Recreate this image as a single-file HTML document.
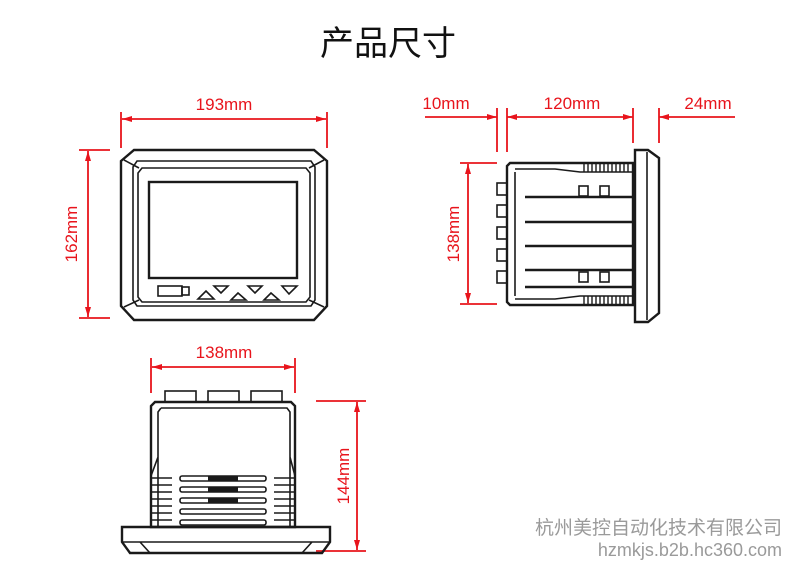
<!DOCTYPE html>
<html><head><meta charset="utf-8"><style>
html,body{margin:0;padding:0;background:#fff}
svg{display:block}
.r{stroke:#e8141c;stroke-width:1.8;fill:none}
.rt{fill:#e8141c;font-family:"Liberation Sans",sans-serif;font-size:17px}
.k{stroke:#1a1a1a;stroke-width:2.4;fill:none}
.k1{stroke:#1a1a1a;stroke-width:1.6;fill:none}
</style></head><body>
<svg width="790" height="562" viewBox="0 0 790 562" xmlns="http://www.w3.org/2000/svg">
<defs>
<marker id="a" viewBox="0 0 10 6" refX="10" refY="3" markerWidth="10" markerHeight="6" markerUnits="userSpaceOnUse" orient="auto-start-reverse"><path d="M0,0L10,3L0,6z" fill="#e8141c"/></marker>
</defs>
<text x="388" y="55" text-anchor="middle" font-family="'Liberation Sans','Noto Sans CJK SC',sans-serif" font-size="34" fill="#111">产品尺寸</text>

<!-- front view -->
<line class="r" x1="121" y1="112" x2="121" y2="148"/><line class="r" x1="327" y1="112" x2="327" y2="148"/>
<line class="r" x1="122" y1="119" x2="326" y2="119" marker-start="url(#a)" marker-end="url(#a)"/>
<text class="rt" x="224" y="110" text-anchor="middle">193mm</text>
<line class="r" x1="79" y1="150" x2="110" y2="150"/><line class="r" x1="79" y1="318" x2="110" y2="318"/>
<line class="r" x1="88" y1="151" x2="88" y2="317" marker-start="url(#a)" marker-end="url(#a)"/>
<text class="rt" transform="translate(77,234) rotate(-90)" text-anchor="middle">162mm</text>
<path class="k" d="M134,150H314L327,161V306L314,320H134L121,306V161Z"/>
<path class="k1" d="M137,161H311L315,167V300L311,306H137L133,300V167Z"/>
<path class="k1" d="M142,168H306L310,173V297L306,302H142L138,297V173Z"/>
<line class="k1" x1="124" y1="160" x2="139" y2="168"/><line class="k1" x1="324" y1="160" x2="309" y2="168"/>
<line class="k1" x1="124" y1="307" x2="139" y2="300"/><line class="k1" x1="324" y1="307" x2="309" y2="300"/>
<rect class="k" x="149" y="182" width="148" height="96"/>
<rect class="k1" x="158" y="286" width="24" height="10"/><rect class="k1" x="182" y="287" width="7" height="8"/>
<path class="k1" d="M198,299l8,-8l8,8z M214,286h14l-7,7z M231,300l7,-7l8,7z M248,286h14l-7,7z M264,300l7,-7l8,7z M282,286h15l-8,8z"/>

<!-- side view -->
<line class="r" x1="425" y1="117" x2="497" y2="117" marker-end="url(#a)"/>
<line class="r" x1="507" y1="117" x2="633" y2="117" marker-start="url(#a)" marker-end="url(#a)"/>
<line class="r" x1="659" y1="117" x2="735" y2="117" marker-start="url(#a)"/>
<line class="r" x1="497" y1="108" x2="497" y2="152"/><line class="r" x1="507" y1="108" x2="507" y2="152"/>
<line class="r" x1="633" y1="108" x2="633" y2="143"/><line class="r" x1="659" y1="108" x2="659" y2="143"/>
<text class="rt" x="446" y="109" text-anchor="middle">10mm</text>
<text class="rt" x="572" y="109" text-anchor="middle">120mm</text>
<text class="rt" x="708" y="109" text-anchor="middle">24mm</text>
<line class="r" x1="460" y1="163" x2="497" y2="163"/><line class="r" x1="460" y1="304" x2="497" y2="304"/>
<line class="r" x1="468" y1="164" x2="468" y2="303" marker-start="url(#a)" marker-end="url(#a)"/>
<text class="rt" transform="translate(459,234) rotate(-90)" text-anchor="middle">138mm</text>
<path class="k" d="M510,163H633V305H510L507,302V166Z"/>
<path class="k1" d="M515,172V296 M515,169H555L580,172H633 M515,299H555L580,296H633"/>
<path class="k" d="M635,150H648L659,158V313L648,322H635Z"/>
<path class="k1" d="M647,152V320"/>
<g class="k1">
<rect x="497" y="183" width="10" height="12"/><rect x="497" y="205" width="10" height="12"/><rect x="497" y="227" width="10" height="12"/><rect x="497" y="249" width="10" height="12"/><rect x="497" y="271" width="10" height="12"/>
<rect x="579" y="186" width="9" height="10"/><rect x="600" y="186" width="9" height="10"/>
<rect x="579" y="272" width="9" height="10"/><rect x="600" y="272" width="9" height="10"/>
</g>
<g stroke="#1a1a1a" stroke-width="2.6"><line x1="525" y1="197" x2="633" y2="197"/><line x1="525" y1="222" x2="633" y2="222"/><line x1="525" y1="246" x2="633" y2="246"/><line x1="525" y1="270" x2="633" y2="270"/><line x1="525" y1="287" x2="633" y2="287"/></g>
<g stroke="#1a1a1a" stroke-width="1.4" fill="none">
<path d="M584,164v8M588,164v8M592,164v8M596,164v8M600,164v8M604,164v8M608,164v8M612,164v8M616,164v8M620,164v8M624,164v8M628,164v8"/>
<path d="M584,296v8M588,296v8M592,296v8M596,296v8M600,296v8M604,296v8M608,296v8M612,296v8M616,296v8M620,296v8M624,296v8M628,296v8"/>
</g>

<!-- bottom view -->
<line class="r" x1="151" y1="358" x2="151" y2="393"/><line class="r" x1="295" y1="358" x2="295" y2="393"/>
<line class="r" x1="152" y1="367" x2="294" y2="367" marker-start="url(#a)" marker-end="url(#a)"/>
<text class="rt" x="224" y="358" text-anchor="middle">138mm</text>
<line class="r" x1="316" y1="401" x2="366" y2="401"/><line class="r" x1="316" y1="551" x2="366" y2="551"/>
<line class="r" x1="357" y1="402" x2="357" y2="550" marker-start="url(#a)" marker-end="url(#a)"/>
<text class="rt" transform="translate(349,476) rotate(-90)" text-anchor="middle">144mm</text>
<g class="k1"><rect x="165" y="391" width="31" height="11"/><rect x="208" y="391" width="31" height="11"/><rect x="251" y="391" width="31" height="11"/></g>
<path class="k" d="M155,402H291L295,406V527H151V406Z"/>
<path class="k1" d="M161,408H287L290,412V457L295,476 M161,408L158,412V457L151,476 M158,457V527 M290,457V527"/>
<g stroke="#1a1a1a" stroke-width="1.5">
<path d="M152,478h20M152,485h20M152,492h20M152,499h20M152,506h20M152,513h20M152,520h20"/>
<path d="M274,478h20M274,485h20M274,492h20M274,499h20M274,506h20M274,513h20M274,520h20"/>
</g>
<g class="k1"><rect x="180" y="476" width="86" height="5" rx="2"/><rect x="180" y="487" width="86" height="5" rx="2"/><rect x="180" y="498" width="86" height="5" rx="2"/><rect x="180" y="509" width="86" height="5" rx="2"/><rect x="180" y="520" width="86" height="5" rx="2"/></g>
<g fill="#1a1a1a"><rect x="208" y="476" width="30" height="5"/><rect x="208" y="487" width="30" height="5"/><rect x="208" y="498" width="30" height="5"/></g>
<path class="k" d="M122,527H330V542L322,553H130L122,542Z"/>
<path class="k1" d="M122,542H330 M140,542L150,553 M312,542L302,553"/>

<text x="782" y="534" text-anchor="end" font-family="'Liberation Sans','Noto Sans CJK SC',sans-serif" font-size="19" fill="#9a9a9a">杭州美控自动化技术有限公司</text>
<text x="782" y="556" text-anchor="end" font-family="'Liberation Sans',sans-serif" font-size="18" fill="#9a9a9a">hzmkjs.b2b.hc360.com</text>
</svg>
</body></html>
